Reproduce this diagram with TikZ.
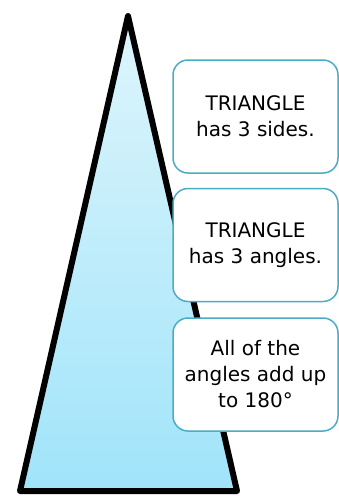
\documentclass[tikz,border=0pt]{standalone}
\usepackage{fontspec}
\setmainfont{DejaVu Sans}
\usetikzlibrary{positioning}

\definecolor{edgeblue}{RGB}{75,172,198}
\definecolor{toplight}{RGB}{222,245,252}
\definecolor{botlight}{RGB}{160,228,250}

\begin{document}
\begin{tikzpicture}[
    x=1pt, y=-1pt,
    fact/.style={draw=edgeblue, line width=1.5pt, fill=white, rounded corners=15pt, align=center,
        minimum width=165pt, minimum height=113pt, inner sep=0pt, font=\fontsize{20}{26}\selectfont},
    outline/.style={line width=6pt, line join=round, top color=toplight, bottom color=botlight}
]
\useasboundingbox (0,0) rectangle (339,496);
% the triangle
\coordinate (apex) at (128,16);
\coordinate (left) at (20,491);
\coordinate (right) at (237,491);
\draw[outline] (apex) -- (right) -- (left) -- cycle;
% facts about it
\node[fact] (sides) at (255.5,116.5) {TRIANGLE\\has 3 sides.};
\node[fact, below=14pt of sides] (angles) {TRIANGLE\\has 3 angles.};
\node[fact, below=15pt of angles] (sum) {All of the\\angles add up\\to 180°};
\end{tikzpicture}
\end{document}
